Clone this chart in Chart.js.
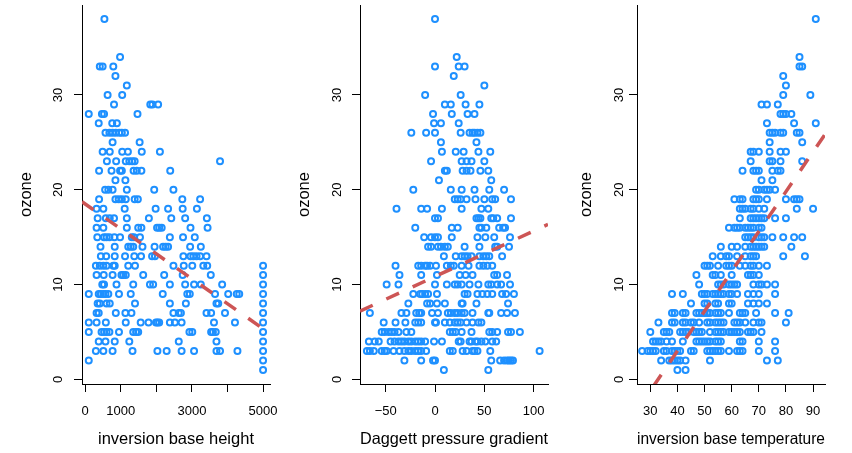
<!DOCTYPE html>
<html>
<head>
<meta charset="utf-8">
<script src="https://cdn.jsdelivr.net/npm/chart.js@4.4.1/dist/chart.umd.min.js"></script>
<style>
  html, body { margin: 0; padding: 0; background: #fff; }
  #wrap { position: relative; width: 852px; height: 453px; overflow: hidden; }
  canvas { position: absolute; top: 0; }
</style>
</head>
<body>
<div id="wrap">
  <canvas id="c0" width="284" height="453" style="left:0px"></canvas>
  <canvas id="c1" width="284" height="453" style="left:284px"></canvas>
  <canvas id="c2" width="284" height="453" style="left:568px"></canvas>
</div>
<script>
// ---- data: [ozone, [x values at that ozone level]] ----
const ozoneTicks = [0, 10, 20, 30];

const ibhTicks = [0, 1000, 2000, 3000, 4000, 5000];
const ibhTickLabels = ['0', '1000', '', '3000', '', '5000'];
const ibhRows = [
  [38, [540]],
  [34, [980]],
  [33, [410, 490, 790]],
  [32, [850]],
  [31, [1170]],
  [30, [630, 1040]],
  [29, [810, 1830, 1890, 2050]],
  [28, [100, 470, 530, 1470]],
  [27, [380, 760, 890]],
  [26, [570, 680, 770, 860, 960, 1030, 1120]],
  [25, [770, 1530]],
  [24, [490, 690, 1040, 1200, 1590, 2100]],
  [23, [610, 870, 1140, 1240, 1320, 1390, 3790]],
  [22, [390, 740, 980, 1030, 1360, 1450, 1580, 2390]],
  [21, [850, 1130]],
  [20, [560, 650, 770, 1170, 1940, 2480]],
  [19, [390, 850, 940, 1030, 1140, 1390, 1480, 2730, 3230]],
  [18, [320, 510, 1110, 1980, 2330, 2740, 3140]],
  [17, [350, 580, 690, 810, 1170, 1790, 2420, 2810, 3420]],
  [16, [320, 510, 1170, 1490, 1580, 2020, 2080, 2150, 2960, 3440]],
  [15, [340, 530, 600, 680, 820, 980, 1310, 1370, 1540, 2380, 2750, 3080]],
  [14, [430, 830, 1210, 1280, 1350, 1610, 1950, 2190, 2260, 2330, 2950, 3250]],
  [13, [440, 590, 830, 1120, 1380, 1570, 1880, 1960, 2760, 2960, 3040, 3130, 3230, 3410]],
  [12, [300, 410, 510, 600, 790, 830, 1210, 1400, 2480, 2770, 3010, 3320, 3430, 5000]],
  [11, [320, 520, 770, 1020, 1070, 1140, 1630, 2220, 2740, 3530, 5000]],
  [10, [480, 530, 880, 1350, 1820, 1910, 2380, 2810, 3060, 3250, 3850, 5000]],
  [9, [100, 380, 440, 510, 570, 650, 950, 1280, 2180, 2870, 2940, 3650, 4020, 4260, 4330, 5000]],
  [8, [350, 410, 600, 690, 1400, 2380, 2830, 3690, 3740, 5000]],
  [7, [320, 380, 860, 1130, 1300, 2480, 2630, 2690, 3410, 3540, 3930, 5000]],
  [6, [100, 320, 580, 1140, 1560, 1780, 1990, 2030, 2080, 2380, 2520, 2710, 3620, 4210, 5000]],
  [5, [100, 460, 530, 600, 680, 950, 1350, 1430, 1490, 2930, 3010, 3540, 3590, 3670, 5000]],
  [4, [380, 570, 830, 1240, 2630, 3690, 5000]],
  [3, [300, 510, 770, 1330, 2030, 2290, 2710, 3060, 3690, 3790, 4280, 5000]],
  [2, [100, 5000]],
  [1, [5000]]
];

const dpgTicks = [-50, 0, 50, 100];
const dpgTickLabels = ['\u221250', '0', '50', '100'];
const dpgRows = [
  [38, [0]],
  [34, [22]],
  [33, [0, 24, 30]],
  [32, [19]],
  [31, [50]],
  [30, [-10, 26]],
  [29, [10, 16, 31, 45]],
  [28, [-2, 17, 33, 40]],
  [27, [-1, 6, 24]],
  [26, [-24, -9, 0, 26, 35, 38, 40, 43, 46]],
  [25, [6, 42]],
  [24, [7, 21, 29, 44, 56]],
  [23, [-4, 27, 32, 37, 50]],
  [22, [10, 12, 28, 32, 36, 46, 54]],
  [21, [4, 57]],
  [20, [-22, 16, 27, 40, 55, 70]],
  [19, [20, 23, 26, 32, 41, 50, 58, 61, 77]],
  [18, [-39, -14, -8, 7, 27, 47, 54]],
  [17, [0, 3, 42, 44, 46, 57, 59, 63, 77]],
  [16, [-20, 17, 23, 45, 47, 52, 65, 69, 71]],
  [15, [-11, -4, 0, 3, 17, 43, 51, 60, 76]],
  [14, [-7, -4, 3, 6, 10, 13, 30, 45, 61, 63, 75]],
  [13, [9, 21, 27, 30, 33, 37, 45, 49, 52, 55, 68]],
  [12, [-40, -17, -14, -10, -8, -5, 1, 12, 16, 19, 27, 34, 45, 49, 53, 58]],
  [11, [-36, -14, 2, 25, 31, 38, 60, 63, 73]],
  [10, [-49, -37, 0, 12, 20, 23, 27, 35, 44, 54, 57, 63, 67, 76]],
  [9, [-22, -15, -13, -10, -7, 2, 30, 33, 43, 48, 53, 58, 68, 72, 80]],
  [8, [-27, -8, -5, 2, 10, 27, 28, 42, 74]],
  [7, [-66, -34, -29, -19, -16, -14, -3, 3, 13, 16, 20, 23, 27, 30, 38, 54, 55, 67, 73, 81]],
  [6, [-52, -40, -30, -20, -17, -14, 0, 1, 10, 15, 20, 23, 26, 32, 38, 44, 47]],
  [5, [-54, -51, -47, -44, -41, -37, -29, -24, 15, 18, 21, 27, 37, 55, 58, 63, 74, 77, 86]],
  [4, [-67, -61, -57, -45, -41, -37, -34, -31, -27, -24, -20, -17, -14, -10, -1, 7, 24, 26, 35, 37, 41, 43, 47, 51, 58, 62]],
  [3, [-69, -66, -62, -54, -51, -49, -42, -36, -31, -27, -24, -20, -17, -14, -9, 15, 18, 28, 32, 38, 40, 43, 56, 106]],
  [2, [-31, -14, -2, 0, 57, 66, 70, 73, 75, 77, 79]],
  [1, [9, 54]]
];

const ibtTicks = [30, 40, 50, 60, 70, 80, 90];
const ibtTickLabels = ['30', '40', '50', '60', '70', '80', '90'];
const ibtRows = [
  [38, [91]],
  [34, [85]],
  [33, [85, 86]],
  [32, [79]],
  [31, [80]],
  [30, [79, 89]],
  [29, [71, 73, 77]],
  [28, [78, 79, 80, 82]],
  [27, [73, 83, 91]],
  [26, [74, 75, 76, 78, 79, 84, 85]],
  [25, [74, 86]],
  [24, [67, 68, 70, 74, 78, 80]],
  [23, [67, 74, 75, 78, 86]],
  [22, [64, 68, 69, 70, 75, 77, 78]],
  [21, [71, 75]],
  [20, [69, 70, 72, 73, 74, 76]],
  [19, [61, 63, 64, 68, 69, 70, 73, 80, 83, 84, 85]],
  [18, [63, 64, 65, 67, 68, 70, 72, 84, 90]],
  [17, [63, 67, 68, 69, 70, 71, 72, 76, 80]],
  [16, [59, 61, 62, 63, 65, 66, 67, 68, 70, 71]],
  [15, [65, 66, 67, 68, 70, 71, 72, 75, 79, 83, 86]],
  [14, [56, 60, 62, 65, 67, 68, 69, 70, 71, 72, 82]],
  [13, [53, 56, 58, 59, 62, 65, 67, 68, 69, 79, 87]],
  [12, [50, 51, 52, 55, 58, 59, 60, 63, 65, 67, 68, 70, 73]],
  [11, [47, 53, 54, 56, 60, 66, 67, 68, 70]],
  [10, [48, 55, 56, 57, 59, 60, 61, 62, 68, 70, 71, 73, 76]],
  [9, [38, 42, 49, 50, 51, 53, 54, 55, 56, 57, 59, 60, 62, 66, 68, 70, 76]],
  [8, [45, 50, 51, 54, 55, 59, 60, 66, 68, 70, 73]],
  [7, [38, 39, 42, 43, 47, 48, 49, 50, 51, 52, 54, 55, 56, 59, 63, 64, 65, 69, 76, 81]],
  [6, [33, 38, 39, 42, 43, 45, 46, 48, 51, 52, 54, 55, 56, 57, 61, 62, 63, 65, 68, 70, 71, 80]],
  [5, [30, 35, 36, 37, 41, 42, 43, 44, 46, 47, 48, 49, 52, 54, 55, 56, 57, 59, 60, 61, 62, 63, 66, 67, 68, 71]],
  [4, [31, 32, 33, 34, 36, 38, 42, 47, 48, 49, 50, 51, 52, 54, 55, 56, 63, 64, 70, 76]],
  [3, [27, 29, 30, 31, 32, 35, 36, 38, 39, 40, 41, 45, 46, 51, 52, 53, 54, 55, 56, 59, 62, 63, 64, 70, 76]],
  [2, [34, 37, 38, 39, 40, 41, 43, 52, 73, 77]],
  [1, [40, 43]]
];

// least-squares lines (ozone ~ x)
const fitIntercepts = [18.5, 10.85, -13.8];
const fitSlopes = [-0.00263, 0.048, 0.42];

// ---- layout ----
const FONT = '"Liberation Sans", Arial, Helvetica, sans-serif';
Chart.defaults.font.family = FONT;
Chart.defaults.color = '#000';

const panels = [
  { id: 'c0', rows: ibhRows, ticks: ibhTicks, labels: ibhTickLabels, title: 'inversion base height',
    xmin: -90, xmax: 5195, yAxisW: 82, padR: 14, yTitlePad: 17, yLabX: 58.5 },
  { id: 'c1', rows: dpgRows, ticks: dpgTicks, labels: dpgTickLabels, title: 'Daggett pressure gradient',
    xmin: -76, xmax: 114.5, yAxisW: 76, padR: 20, yTitlePad: 11, yLabX: 53.5 },
  { id: 'c2', rows: ibtRows, ticks: ibtTicks, labels: ibtTickLabels, title: 'inversion base temperature',
    xmin: 25.1, xmax: 94.4, yAxisW: 69, padR: 27, yTitlePad: 9, yLabX: 51.5 }
];

// R-style y tick labels, rotated to read upward
const rotatedYLabels = {
  id: 'rotatedYLabels',
  afterDraw(chart, args, opts) {
    const s = chart.scales.y, ctx = chart.ctx;
    ctx.save();
    ctx.fillStyle = '#000';
    ctx.font = '13px ' + FONT;
    ctx.textAlign = 'center';
    ctx.textBaseline = 'middle';
    s.ticks.forEach(t => {
      ctx.save();
      ctx.translate(opts.x, s.getPixelForValue(t.value));
      ctx.rotate(-Math.PI / 2);
      ctx.fillText(String(t.value), 0, 0);
      ctx.restore();
    });
    ctx.restore();
  }
};

function toPoints(rows) {
  const pts = [];
  rows.forEach(([oz, xs]) => xs.forEach(x => pts.push({ x: x, y: oz })));
  return pts;
}

panels.forEach((p, i) => {
  const a = fitIntercepts[i], b = fitSlopes[i];
  new Chart(document.getElementById(p.id), {
    type: 'scatter',
    data: {
      datasets: [
        {
          data: [{ x: p.xmin, y: a + b * p.xmin }, { x: p.xmax, y: a + b * p.xmax }],
          showLine: true,
          borderColor: '#CD5555',
          borderWidth: 3.5,
          borderDash: [14, 15],
          borderCapStyle: 'butt',
          pointRadius: 0,
          clip: 0,
          order: 0
        },
        {
          data: toPoints(p.rows),
          pointStyle: 'circle',
          pointRadius: 3,
          pointBorderWidth: 2,
          pointBorderColor: '#1E90FF',
          pointBackgroundColor: 'rgba(0,0,0,0)',
          borderColor: '#1E90FF',
          backgroundColor: 'rgba(0,0,0,0)',
          order: 1
        }
      ]
    },
    plugins: [rotatedYLabels],
    options: {
      responsive: false,
      animation: false,
      events: [],
      layout: { autoPadding: false, padding: { left: 0, right: p.padR, top: 5, bottom: 0 } },
      plugins: {
        legend: { display: false },
        tooltip: { enabled: false },
        rotatedYLabels: { x: p.yLabX }
      },
      scales: {
        x: {
          type: 'linear',
          min: p.xmin,
          max: p.xmax,
          afterFit: s => {
            s.height = 69;
            s.paddingLeft = 0; s.paddingRight = 0;
          },
          afterBuildTicks: s => { s.ticks = p.ticks.map(v => ({ value: v })); },
          grid: { drawOnChartArea: false, drawTicks: true, tickLength: 8, color: '#000', lineWidth: 1 },
          border: { display: true, color: '#000', width: 1 },
          ticks: {
            autoSkip: false, maxRotation: 0, minRotation: 0, padding: 11.5,
            font: { size: 13 }, color: '#000',
            callback: (v, idx) => p.labels[idx]
          },
          title: {
            display: true, text: p.title, color: '#000',
            font: { size: 16.5 }, padding: { top: 0, bottom: 4 }
          }
        },
        y: {
          type: 'linear',
          min: -0.48,
          max: 39.48,
          afterFit: s => {
            s.width = p.yAxisW;
            s.paddingTop = 0; s.paddingBottom = 0;
          },
          afterBuildTicks: s => { s.ticks = ozoneTicks.map(v => ({ value: v })); },
          grid: { drawOnChartArea: false, drawTicks: true, tickLength: 8, color: '#000', lineWidth: 1 },
          border: { display: true, color: '#000', width: 1 },
          ticks: { display: false },
          title: {
            display: true, text: 'ozone', color: '#000',
            font: { size: 16.5 }, padding: { top: p.yTitlePad, bottom: 0 }
          }
        }
      }
    }
  });
});
</script>
</body>
</html>
